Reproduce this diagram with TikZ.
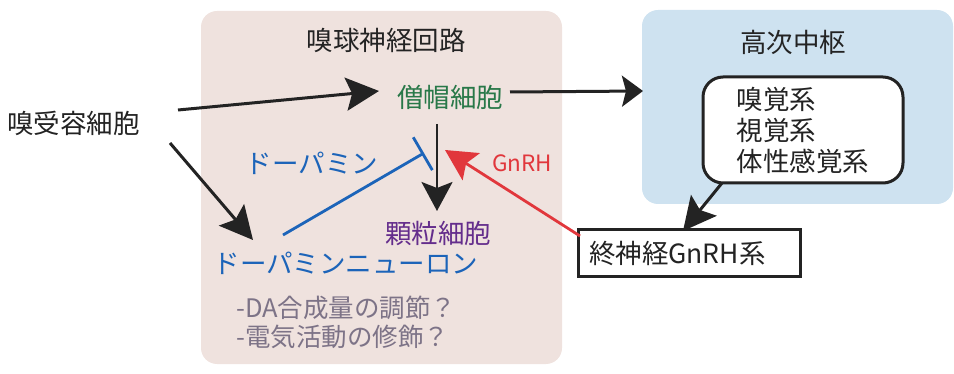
\documentclass[tikz,border=0pt]{standalone}
\usepackage{fontspec}
\setmainfont{Noto Sans CJK JP}
\usetikzlibrary{arrows.meta}
\definecolor{pinkbg}{RGB}{239,226,222}
\definecolor{bluebg}{RGB}{206,226,240}
\definecolor{txt}{RGB}{35,35,35}
\definecolor{mitral}{RGB}{40,120,72}
\definecolor{granule}{RGB}{100,45,140}
\definecolor{dablue}{RGB}{28,100,185}
\definecolor{gnred}{RGB}{225,55,60}
\definecolor{note}{RGB}{125,115,135}
\tikzset{
  lbl/.style={inner sep=0pt, text=txt, font=\fontsize{26.5}{31}\selectfont},
  note/.style={inner sep=0pt, text=note, font=\fontsize{25.5}{29}\selectfont, anchor=west},
  arr/.style={draw=txt, line width=3pt, -{Stealth[length=33pt,width=33pt,inset=6pt]}},
  shortarr/.style={draw=txt, line width=3pt, -{Stealth[length=21pt,width=31pt,inset=4pt]}},
  thinarr/.style={draw=txt, line width=2.4pt, -{Stealth[length=29pt,width=31pt,inset=6pt]}},
  redarr/.style={draw=gnred, line width=2.8pt, -{Stealth[length=31pt,width=32pt,inset=6pt]}},
  inhib/.style={draw=dablue, line width=2.8pt, -{Bar[width=38pt]}},
  boxnode/.style={draw=txt, line width=3pt, fill=white},
}
\begin{document}
\begin{tikzpicture}[x=1pt,y=-1pt]
\useasboundingbox (0,0) rectangle (954,374);
% background panels
\fill[pinkbg, rounded corners=16pt] (201,11) rectangle (562,364);
\fill[bluebg, rounded corners=16pt] (642,10) rectangle (953,204);
% titles
\node[lbl] (t1) at (386,40) {嗅球神経回路};
\node[lbl] (t2) at (793,42) {高次中枢};
% cells
\node[lbl, anchor=west] (orn) at (7,123) {嗅受容細胞};
\node[lbl, text=mitral] (mc) at (450,97) {僧帽細胞};
\node[lbl, text=granule] (gc) at (438,233) {顆粒細胞};
\node[lbl, text=dablue] (dan) at (346,263) {ドーパミンニューロン};
\node[lbl, text=dablue] (da) at (312,163) {ドーパミン};
\node[lbl, text=gnred, font=\fontsize{22.5}{26}\selectfont] (gn) at (522,163) {GnRH};
\node[note] (n1) at (236,308) {-DA合成量の調節？};
\node[note] (n2) at (236,337) {-電気活動の修飾？};
% boxes
\node[boxnode, rounded corners=20pt, minimum width=200pt, minimum height=106pt, lbl, inner sep=0pt, align=left] (hc) at (803,130) {嗅覚系\\視覚系\\体性感覚系};
\node[boxnode, minimum width=222pt, minimum height=47pt, lbl, inner sep=0pt, text width=200pt, align=left] (tn) at (689,253.5) {終神経GnRH系};
% connector end points
\coordinate (a1s) at (178,110);
\coordinate (a1e) at (379,91);
\coordinate (a2s) at (170,143);
\coordinate (a2e) at (253,240);
\coordinate (a3s) at (510,92);
\coordinate (a3e) at (643,91);
\coordinate (a4s) at (437,124);
\coordinate (a4e) at (437,211);
\coordinate (a5s) at (283,235);
\coordinate (a5e) at (424,153);
\coordinate (a6s) at (580,236);
\coordinate (a6e) at (445,150);
\coordinate (a7s) at (722,183);
\coordinate (a7e) at (683,231);
% connectors
\draw[arr] (a1s) -- (a1e);
\draw[arr] (a2s) -- (a2e);
\draw[shortarr] (a3s) -- (a3e);
\draw[thinarr] (a4s) -- (a4e);
\draw[inhib] (a5s) -- (a5e);
\draw[redarr] (a6s) -- (a6e);
\draw[arr] (a7s) -- (a7e);
\end{tikzpicture}
\end{document}
